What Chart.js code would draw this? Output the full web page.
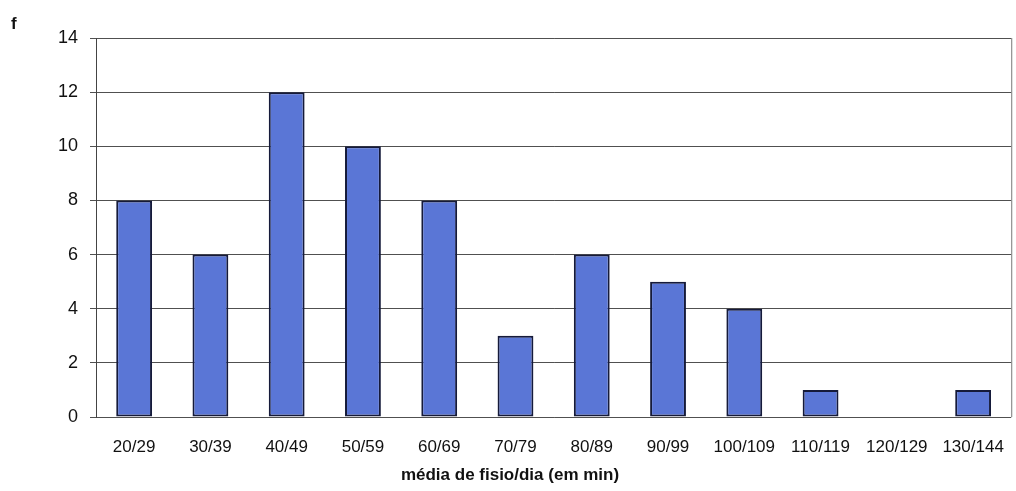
<!DOCTYPE html>
<html>
<head>
<meta charset="utf-8">
<script src="https://cdn.jsdelivr.net/npm/chart.js@4"></script>
<style>
  html, body { margin: 0; padding: 0; background: #fff; }
  #wrap { width: 1016px; height: 491px; }
</style>
</head>
<body>
<div id="wrap"><canvas id="c" width="1016" height="491"></canvas></div>
<script>
const categories = ["20/29", "30/39", "40/49", "50/59", "60/69", "70/79", "80/89", "90/99", "100/109", "110/119", "120/129", "130/144"];
const frequencies = [8, 6, 12, 10, 8, 3, 6, 5, 4, 1, 0, 1];
const yTicks = [0, 2, 4, 6, 8, 10, 12, 14];
const xTitle = "média de fisio/dia (em min)";
const yTitle = "f";

const FONT = "'Liberation Sans', Arial, sans-serif";

// right-hand frame of the plot area, the "f" caption and the x-axis caption
const framePlugin = {
  id: 'frame',
  afterDraw(chart) {
    const { ctx, chartArea: a } = chart;
    ctx.save();
    ctx.strokeStyle = '#777';
    ctx.lineWidth = 1;
    ctx.beginPath();
    ctx.moveTo(a.right + 0.5, a.top);
    ctx.lineTo(a.right + 0.5, a.bottom);
    ctx.stroke();
    ctx.fillStyle = '#111';
    ctx.font = 'bold 17px ' + FONT;
    ctx.textAlign = 'left';
    ctx.textBaseline = 'middle';
    ctx.fillText(yTitle, 11, 24);
    ctx.textAlign = 'center';
    ctx.fillText(xTitle, 510, 475);
    ctx.restore();
  }
};

new Chart(document.getElementById('c'), {
  type: 'bar',
  data: {
    labels: categories,
    datasets: [{
      data: frequencies,
      backgroundColor: '#5a76d6',
      borderColor: '#151a3a',
      borderWidth: 2,
      borderSkipped: false,
      barPercentage: 0.47,
      categoryPercentage: 1.0
    }]
  },
  options: {
    responsive: false,
    animation: false,
    layout: { padding: { top: 38, right: 4, left: 0, bottom: 0 } },
    plugins: { legend: { display: false }, tooltip: { enabled: false } },
    scales: {
      x: {
        grid: { display: false },
        border: { display: false },
        ticks: { color: '#111', font: { family: FONT, size: 17 }, padding: 12, maxRotation: 0, autoSkip: false },
        afterFit(scale) { scale.height = 74; }
      },
      y: {
        min: 0,
        max: 14,
        afterBuildTicks(scale) { scale.ticks = yTicks.map(v => ({ value: v })); },
        grid: { color: '#505050', lineWidth: 1, drawTicks: true, tickLength: 6 },
        border: { display: true, color: '#444', width: 1 },
        ticks: { color: '#111', font: { family: FONT, size: 18 }, padding: 12 },
        afterFit(scale) { scale.width = 96; }
      }
    }
  },
  plugins: [framePlugin]
});
</script>
</body>
</html>
